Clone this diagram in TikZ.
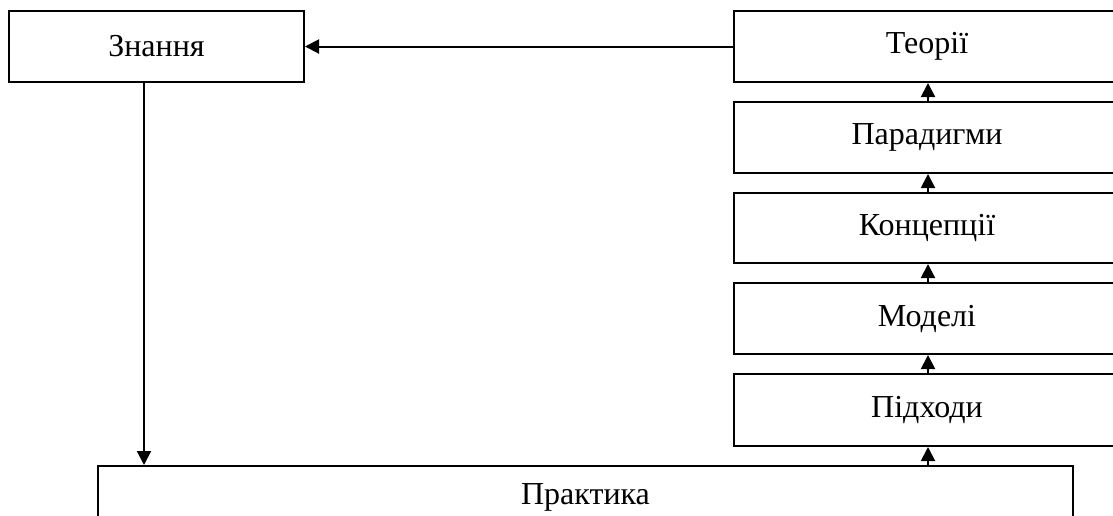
\documentclass[tikz,border=0pt]{standalone}
\usepackage{fontspec}
\setmainfont{Liberation Serif}
\usetikzlibrary{arrows.meta}
\begin{document}
\begin{tikzpicture}[x=1pt,y=-1pt,
  box/.style={draw,line width=2pt,inner sep=0pt,font=\fontsize{32}{36}\selectfont},
  side/.style={box,minimum width=386pt},
  arr/.style={line width=2pt,-{Triangle[length=14pt,width=14pt]}}]
\useasboundingbox (0,0) rectangle (1113,515);
\node[box,minimum width=295pt,minimum height=71pt] (znannya) at (156.5,46.5) {Знання};
\node[side,minimum height=71pt] (teorii) at (927,46.5) {Теорії};
\node[side,minimum height=71pt] (paradyhmy) at (927,137.5) {Парадигми};
\node[side,minimum height=70pt] (kontseptsii) at (927,228) {Концепції};
\node[side,minimum height=71pt] (modeli) at (927,318.5) {Моделі};
\node[side,minimum height=72pt] (pidkhody) at (927,410) {Підходи};
\node[box,anchor=north,minimum width=975pt,text height=38pt,text depth=40pt] (praktyka) at (585.5,465) {Практика};
\coordinate (ax) at (928,0);
\coordinate (bx) at (144,0);
\draw[arr] (teorii.west) -- (znannya.east);
\draw[arr] (znannya.south -| bx) -- (praktyka.north -| bx);
\draw[arr] (praktyka.north -| ax) -- (pidkhody.south -| ax);
\draw[arr] (pidkhody.north -| ax) -- (modeli.south -| ax);
\draw[arr] (modeli.north -| ax) -- (kontseptsii.south -| ax);
\draw[arr] (kontseptsii.north -| ax) -- (paradyhmy.south -| ax);
\draw[arr] (paradyhmy.north -| ax) -- (teorii.south -| ax);
\end{tikzpicture}
\end{document}
